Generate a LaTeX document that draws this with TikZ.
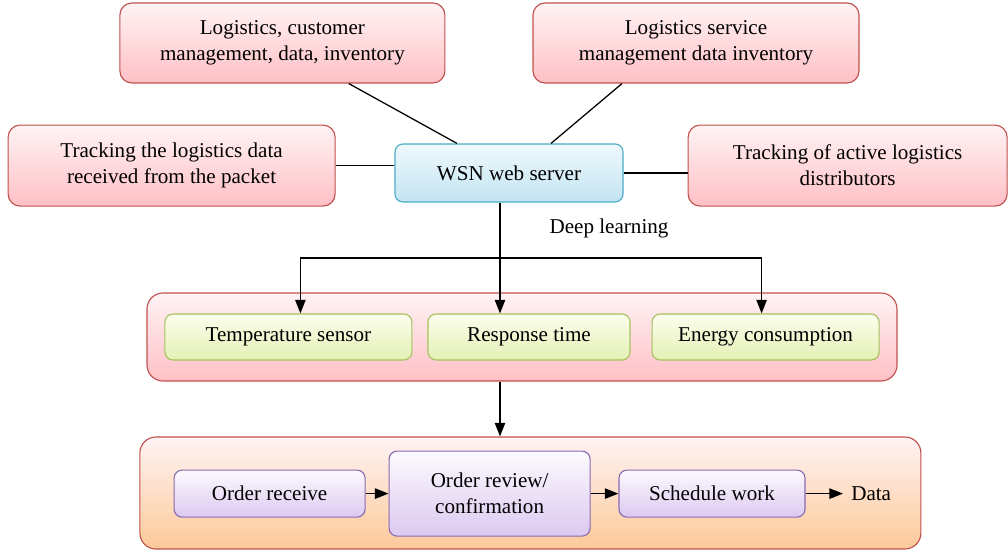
\documentclass[tikz,border=0pt]{standalone}
\usepackage{fontspec}
\setmainfont{Liberation Serif}
\usepackage{xcolor}
\usetikzlibrary{arrows.meta, positioning, calc}

\definecolor{redline}{HTML}{C0504D}
\definecolor{redtop}{HTML}{FFF3F4}
\definecolor{redbot}{HTML}{FFC0C5}
\definecolor{orangebot}{HTML}{FCC999}
\definecolor{blueline}{HTML}{4BACC6}
\definecolor{bluetop}{HTML}{F0F9FD}
\definecolor{bluebot}{HTML}{C2E4F2}
\definecolor{greenline}{HTML}{A5C25F}
\definecolor{greentop}{HTML}{FCFEEE}
\definecolor{greenbot}{HTML}{E4F0B4}
\definecolor{purpleline}{HTML}{8A6BB0}
\definecolor{purpletop}{HTML}{FCFAFE}
\definecolor{purplebot}{HTML}{DCC9F0}

\begin{document}
\begin{tikzpicture}[
    font=\fontsize{15}{18.5}\selectfont,
    box/.style       ={draw, line width=0.8pt, rounded corners=3mm, align=center,
                       inner sep=2pt},
    redbox/.style    ={box, draw=redline, top color=redtop, bottom color=redbot,
                       minimum height=20mm},
    serverbox/.style ={box, draw=blueline, top color=bluetop, bottom color=bluebot,
                       rounded corners=2mm, minimum width=57mm, minimum height=14.5mm},
    panel/.style     ={draw=redline, line width=0.8pt, rounded corners=4mm,
                       top color=redtop},
    metric/.style    ={box, draw=greenline, top color=greentop, bottom color=greenbot,
                       rounded corners=2mm, minimum height=11.5mm},
    stage/.style     ={box, draw=purpleline, top color=purpletop, bottom color=purplebot,
                       rounded corners=2mm, minimum height=11.75mm},
    link/.style      ={line width=0.9pt},
    flow/.style      ={-{Triangle[length=3.4mm,width=2.6mm]}, line width=0.9pt}
]
\useasboundingbox (0,0) rectangle (25.2,-13.8);

% Top: WSN web server and the four data sources
\node[serverbox] (wsn) at (12.725,-4.325) {WSN web server};
\node[redbox, minimum width=81.25mm] (custdata) at (7.06,-1.075)
    {Logistics, customer\\management, data, inventory};
\node[redbox, minimum width=81.5mm] (servdata) at (17.4,-1.075)
    {Logistics service\\management data inventory};
\node[redbox, minimum width=81.75mm, minimum height=20.25mm] (packet) at (4.29,-4.14)
    {Tracking the logistics data\\received from the packet};
\node[redbox, minimum width=79.75mm, minimum height=20.25mm] (distrib) at (21.19,-4.14)
    {Tracking of active logistics\\distributors};

\draw[link] ([xshift=16.6mm]custdata.south) -- ([xshift=-13mm]wsn.north);
\draw[link] ([xshift=-18.5mm]servdata.south) -- ([xshift=10.5mm]wsn.north);
\draw[link] (packet.east) -- (packet.east -| wsn.west);
\draw[link] (wsn.east) -- (wsn.east -| distrib.west);

% Middle: deep learning metrics
\node[panel, bottom color=redbot, minimum width=187.5mm, minimum height=22mm]
    (metrics) at (13.05,-8.425) {};
\node[metric, minimum width=61.75mm] (temp) at (7.21,-8.425) {Temperature sensor};
\node[metric, minimum width=50.5mm]  (resp) at (13.225,-8.425) {Response time};
\node[metric, minimum width=56.75mm] (energy) at (19.14,-8.425) {Energy consumption};

\coordinate (split) at (12.5,-6.45);
\draw[link] (split |- wsn.south) -- (split);
\node (deep) at (15.225,-5.7) {Deep learning};
\draw[flow] (split) -| ([xshift=3mm]temp.north);
\draw[flow] (split) -- (split |- resp.north);
\draw[flow] (split) -| ([xshift=-1mm]energy.north);

% Bottom: order handling
\node[panel, bottom color=orangebot, minimum width=195.25mm, minimum height=28mm]
    (orders) at (13.26,-12.325) {};
\node[stage, minimum width=47.75mm] (receive) at (6.74,-12.34) {Order receive};
\node[stage, minimum width=50.25mm, minimum height=21.25mm] (review) at (12.24,-12.34)
    {Order review/\\confirmation};
\node[stage, minimum width=46.5mm] (sched) at (17.8,-12.34) {Schedule work};
\node[anchor=west, inner sep=2mm] (data) at (21.075,-12.34) {Data};

\draw[flow] (split |- metrics.south) -- (split |- orders.north);
\draw[flow] (receive) -- (review);
\draw[flow] (review) -- (sched);
\draw[flow] (sched) -- (data);

\end{tikzpicture}
\end{document}
